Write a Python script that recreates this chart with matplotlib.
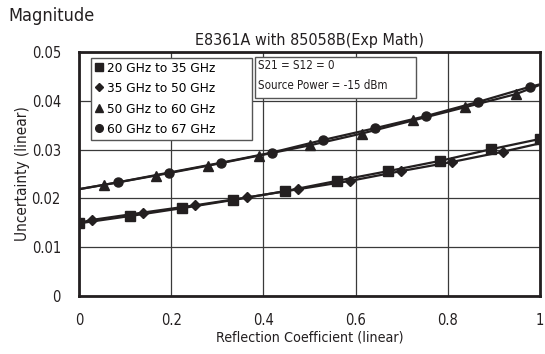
import matplotlib
matplotlib.use("Agg")
import matplotlib.pyplot as plt
from matplotlib.lines import Line2D
from matplotlib.patches import Rectangle

plt.rcParams["font.family"] = ["Liberation Sans Narrow", "DejaVu Sans"]
plt.rcParams["font.stretch"] = "condensed"

# 20-35 GHz (squares)
sq_x = [0.0, 0.111, 0.223, 0.335, 0.447, 0.559, 0.670, 0.783, 0.894, 1.0]
sq_y = [0.0149, 0.0164, 0.0180, 0.0197, 0.0215, 0.0236, 0.0256, 0.0277, 0.0301, 0.0322]
# 35-50 GHz (diamonds)
di_x = [0.0, 0.028, 0.138, 0.252, 0.364, 0.476, 0.588, 0.698, 0.810, 0.920, 1.0]
di_y = [0.0150, 0.0156, 0.0171, 0.0186, 0.0202, 0.0219, 0.0236, 0.0256, 0.0275, 0.0296, 0.0313]
# 50-60 GHz (triangles)
tr_x = [0.0, 0.055, 0.167, 0.279, 0.391, 0.501, 0.613, 0.725, 0.837, 0.948, 1.0]
tr_y = [0.0219, 0.0228, 0.0247, 0.0267, 0.0288, 0.0309, 0.0333, 0.0360, 0.0387, 0.0414, 0.0433]
# 60-67 GHz (circles)
ci_x = [0.0, 0.084, 0.195, 0.307, 0.418, 0.530, 0.642, 0.753, 0.866, 0.978, 1.0]
ci_y = [0.0219, 0.0233, 0.0253, 0.0273, 0.0294, 0.0320, 0.0344, 0.0369, 0.0398, 0.0429, 0.0434]

labels = ["20 GHz to 35 GHz", "35 GHz to 50 GHz", "50 GHz to 60 GHz", "60 GHz to 67 GHz"]
x_ticks = [0, 0.2, 0.4, 0.6, 0.8, 1]
x_tick_labels = ["0", "0.2", "0.4", "0.6", "0.8", "1"]
y_ticks = [0, 0.01, 0.02, 0.03, 0.04, 0.05]
y_tick_labels = ["0", "0.01", "0.02", "0.03", "0.04", "0.05"]

ink = "#231f20"

fig = plt.figure(figsize=(5.45, 3.54), dpi=100)
ax = fig.add_axes([0.145, 0.1638, 0.846, 0.689])

ax.plot(tr_x, tr_y, color=ink, lw=1.6, marker="^", ms=6.5, markevery=slice(1, -1), zorder=3)
ax.plot(ci_x, ci_y, color=ink, lw=1.6, marker="o", ms=6.5, markevery=slice(1, -1), zorder=3)
ax.plot(di_x, di_y, color=ink, lw=1.6, marker="D", ms=5, markevery=slice(1, -1), zorder=3)
ax.plot(sq_x, sq_y, color=ink, lw=1.6, marker="s", ms=6.5, zorder=4)

ax.set_xlim(0, 1)
ax.set_ylim(0, 0.05)
ax.set_xticks(x_ticks, x_tick_labels)
ax.set_yticks(y_ticks, y_tick_labels)
ax.tick_params(length=0, labelsize=10.5, colors=ink)
ax.tick_params(axis="y", pad=13)
ax.tick_params(axis="x", pad=12)
ax.grid(True, color="#3a3a3a", lw=0.9)
ax.set_axisbelow(True)
for s in ax.spines.values():
    s.set_linewidth(2)
    s.set_color(ink)

ax.set_xlabel("Reflection Coefficient (linear)", fontsize=10.3, color=ink, labelpad=2)
ax.set_ylabel("Uncertainty (linear)", fontsize=11, color=ink, labelpad=1)
ax.set_title("E8361A with 85058B(Exp Math)", fontsize=11.5, color=ink, pad=5)
fig.text(0.015, 0.94, "Magnitude", fontsize=13, color=ink)

# legend with marker-only entries
handles = [
    Line2D([], [], ls="none", marker="s", ms=5.5, color=ink),
    Line2D([], [], ls="none", marker="D", ms=4, color=ink),
    Line2D([], [], ls="none", marker="^", ms=5.5, color=ink),
    Line2D([], [], ls="none", marker="o", ms=5.5, color=ink),
]
leg = ax.legend(handles, labels, loc="upper left", mode="expand",
                bbox_to_anchor=(0.026, 0.607, 0.349, 0.37),
                fontsize=9.7, handlelength=0.6, handletextpad=0.3, borderpad=0.3,
                labelspacing=0.55, fancybox=False, framealpha=1, borderaxespad=0)
leg.get_frame().set_edgecolor("#555555")
leg.get_frame().set_linewidth(1.0)

# condition note box
ax.add_patch(Rectangle((0.382, 0.811), 0.349, 0.169, transform=ax.transAxes,
                       facecolor="white", edgecolor="#555555", lw=1.0, zorder=5))
ax.text(0.388, 0.945, "S21 = S12 = 0", transform=ax.transAxes, fontsize=8.3,
        color=ink, va="center", zorder=6)
ax.text(0.388, 0.863, "Source Power = -15 dBm", transform=ax.transAxes, fontsize=8.3,
        color=ink, va="center", zorder=6)

fig.savefig("out.png", dpi=100)
